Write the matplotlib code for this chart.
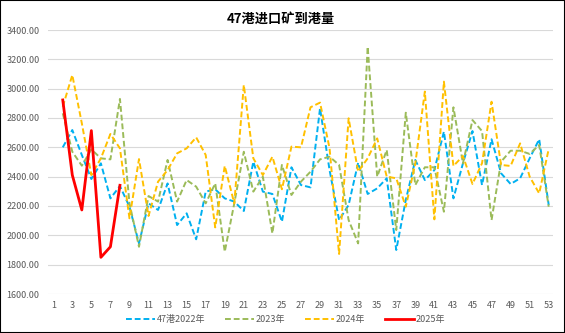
import numpy as np
import matplotlib
matplotlib.use('Agg')
import matplotlib.pyplot as plt
from matplotlib.patches import Rectangle

plt.rcParams['font.family'] = ['Noto Sans CJK SC', 'DejaVu Sans']
plt.rcParams['axes.unicode_minus'] = False

weeks = np.arange(1, 54)

# week 1 has no data
y2022 = [np.nan, 2600, 2718, 2548, 2384, 2491, 2252, 2336, 2195, 1945, 2218, 2173, 2354,
         2070, 2150, 1973, 2298, 2314, 2252, 2230, 2166, 2502, 2298, 2282, 2093, 2464,
         2343, 2327, 2866, 2445, 2104, 2207, 2495, 2282, 2320, 2389, 1900, 2241, 2514,
         2377, 2445, 2707, 2252, 2491, 2711, 2343, 2655, 2423, 2350, 2389, 2525, 2655, 2207]
y2023 = [np.nan, 2832, 2570, 2475, 2586, 2525, 2518, 2930, 2218, 1922, 2268, 2230, 2514,
         2230, 2377, 2332, 2218, 2354, 1888, 2218, 2570, 2298, 2400, 2013, 2480, 2275,
         2366, 2434, 2518, 2536, 2480, 2104, 1945, 3286, 2400, 2582, 2036, 2836, 2343,
         2464, 2464, 2161, 2873, 2491, 2786, 2711, 2104, 2502, 2577, 2577, 2555, 2616, 2195]
y2024 = [np.nan, 2877, 3093, 2764, 2411, 2525, 2691, 2593, 2116, 2520, 2132, 2366, 2445,
         2559, 2593, 2668, 2548, 2054, 2473, 2218, 3025, 2525, 2411, 2536, 2314, 2605,
         2600, 2873, 2905, 2593, 1873, 2798, 2434, 2525, 2661, 2400, 2389, 2195, 2491,
         2980, 2109, 3048, 2473, 2541, 2350, 2491, 2911, 2480, 2473, 2627, 2400, 2286, 2589]
y2025 = [np.nan, 2923, 2411, 2173, 2714, 1850, 1922, 2341]

fig = plt.figure(figsize=(5.65, 3.33), dpi=100)
ax = fig.add_axes([48 / 565, 39 / 333, 505 / 565, 264 / 333])

ax.plot(weeks, y2022, color='#00b0f0', lw=1.4, ls=(0, (3, 1.5)), label='47港2022年')
ax.plot(weeks, y2023, color='#9bbb59', lw=1.4, ls=(0, (3, 1.5)), label='2023年')
ax.plot(weeks, y2024, color='#ffc000', lw=1.4, ls=(0, (3, 1.5)), label='2024年')
ax.plot(weeks[:len(y2025)], y2025, color='#ff0000', lw=2, label='2025年')

ax.set_xlim(0.45, 53.45)
ax.set_ylim(1600, 3400)
ax.set_yticks(np.arange(1600, 3401, 200))
ax.set_yticklabels(['%.2f' % v for v in np.arange(1600, 3401, 200)])
ax.set_xticks(weeks[::2])
ax.tick_params(length=0, labelsize=6.5, labelcolor='#595959')
ax.tick_params(axis='y', pad=6)
ax.tick_params(axis='x', pad=5)
ax.grid(axis='y', color='#d9d9d9', lw=0.8)
ax.set_axisbelow(True)
for s in ax.spines.values():
    s.set_visible(False)

fig.text(0.497, 0.945, '47港进口矿到港量', ha='center', va='center', fontsize=9.5, fontweight='bold')
fig.legend(loc='center', bbox_to_anchor=(0.505, 0.04), ncol=4, frameon=False,
           fontsize=6.5, handlelength=3.2, handletextpad=0.2, columnspacing=2.2,
           labelcolor='#595959')

fig.patches.append(Rectangle((0, 0), 1, 1, transform=fig.transFigure, fill=False,
                             edgecolor='black', lw=1.5))

fig.savefig('out.png', dpi=100)
